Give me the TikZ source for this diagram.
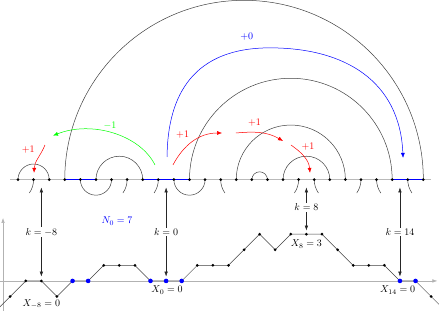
\documentclass[tikz,border=0pt]{standalone}
\usetikzlibrary{arrows.meta}
\begin{document}
\begin{tikzpicture}[x=15.59pt,y=15.59pt,
  tdot/.style={circle,fill=black,inner sep=0pt,minimum size=3pt},
  wdot/.style={circle,fill=black,inner sep=0pt,minimum size=3pt},
  bdot/.style={circle,fill=blue,inner sep=0pt,minimum size=4.6pt},
  arcline/.style={black!75,line width=0.5pt},
  base/.style={gray!55,line width=1.1pt},
  bseg/.style={blue,line width=1.4pt},
  axisline/.style={gray!60,line width=0.5pt,-{Latex[length=5pt,width=3.5pt]}},
  karrow/.style={black!85,line width=0.5pt,{Latex[length=5pt,width=3.5pt]}-{Latex[length=5pt,width=3.5pt]}},
  lab/.style={fill=white,inner sep=1pt},
  carrow/.style={line width=0.5pt,-{Latex[length=5pt,width=4pt]}},
]
\useasboundingbox (-0.654,-1.924) rectangle (27.505,18.02);

% axes
\coordinate (ay0) at (-0.46,-2);
\coordinate (ay1) at (-0.46,4.04);
\coordinate (ax0) at (-0.7,0);
\coordinate (ax1) at (27.4,0);
\draw[axisline] (ay0) -- (ay1);
\draw[axisline] (ax0) -- (ax1);

% top baseline
\coordinate (L0) at (0,6.5);
\coordinate (L1) at (27,6.5);
\draw[base] (L0) -- (L1);
\foreach \i in {0,...,26} \coordinate (t\i) at (\i+0.5,6.5);
\draw[bseg] (t3) -- (t5);
\draw[bseg] (t8) -- (t11);
\draw[bseg] (t24) -- (t26);

% upper arcs
\draw[arcline] (t0) arc[start angle=180,end angle=0,radius=1];
\draw[arcline] (t3) arc[start angle=180,end angle=0,radius=11.5];
\draw[arcline] (t5) arc[start angle=180,end angle=0,radius=1.5];
\draw[arcline] (t11) arc[start angle=180,end angle=0,radius=6.5];
\draw[arcline] (t14) arc[start angle=180,end angle=0,radius=3.5];
\draw[arcline] (t15) arc[start angle=180,end angle=0,radius=0.5];
\draw[arcline] (t17) arc[start angle=180,end angle=0,radius=1.5];
% lower arcs
\draw[arcline] (t4) arc[start angle=180,end angle=360,radius=1];
\draw[arcline] (t10) arc[start angle=180,end angle=360,radius=1];
% stubs
\foreach \i in {1,7,9,18,22}
  \draw[arcline] (t\i) arc[start angle=0,end angle=-35,radius=1.5];
\foreach \i in {13,19,23,25}
  \draw[arcline] (t\i) arc[start angle=180,end angle=215,radius=1.5];
% dots
\foreach \i in {0,...,26} \node[tdot] (d\i) at (t\i) {};

% walk
\foreach \lv [count=\n from 0] in {-1,0,0,-1,0,0,1,1,1,0,0,0,1,1,1,2,3,2,3,3,3,2,1,1,1,0,0,-1}
  \coordinate (w\n) at (\n,\lv);
\coordinate (wa) at (-1,-2);
\coordinate (wb) at (28,-2);
\draw[arcline] (wa) \foreach \j in {0,...,27}{ -- (w\j)} -- (wb);
\foreach \j in {0,...,27} \node[wdot] (v\j) at (w\j) {};
\foreach \j in {4,5,9,10,11,25,26} \node[bdot] (b\j) at (w\j) {};

% k arrows
\coordinate (ka) at (2,6.0);
\coordinate (kb) at (10,6.0);
\coordinate (kc) at (19,6.0);
\coordinate (kd) at (25,6.0);
\draw[karrow,shorten >=4.3pt] (ka) -- (w2);
\draw[karrow,shorten >=4.3pt] (kb) -- (w10);
\draw[karrow,shorten >=3.6pt] (kc) -- (w19);
\draw[karrow,shorten >=4.3pt] (kd) -- (w25);
\node[lab] (la) at (2,3.14) {$k=-8$};
\node[lab] (lb) at (10,3.14) {$k=0$};
\node[lab] (lc) at (19,4.74) {$k=8$};
\node[lab] (ld) at (25,3.14) {$k=14$};

\node (xa) at (2,-1.48) {$X_{-8}=0$};
\node (xb) at (10.06,-0.6) {$X_0=0$};
\node (xc) at (19,2.37) {$X_8=3$};
\node (xd) at (24.85,-0.6) {$X_{14}=0$};
\node[blue] (n0) at (6.85,3.85) {$N_0=7$};

% coloured moves
\coordinate (r1s) at (2.23,8.72);
\coordinate (r1e) at (1.53,6.93);
\draw[carrow,red] (r1s) to[out=-112,in=88] (r1e);
\node[red] (r1l) at (1.16,8.40) {$+1$};

\coordinate (gs) at (9.29,7.44);
\coordinate (ge) at (2.75,9.32);
\draw[carrow,green] (gs) .. controls (8.3,9.4) and (5.2,10.3) .. (ge);
\node[green] (g1l) at (6.4,9.95) {$-1$};

\coordinate (r2s) at (10.44,7.44);
\coordinate (r2e) at (13.59,9.49);
\draw[carrow,red] (r2s) to[out=62,in=180] (r2e);
\node[red] (r2l) at (11.06,9.40) {$+1$};

\coordinate (r3s) at (14.48,9.49);
\coordinate (r3e) at (17.5,8.98);
\draw[carrow,red] (r3s) to[out=5,in=150] (r3e);
\node[red] (r3l) at (15.67,10.15) {$+1$};

\coordinate (r4s) at (18.01,8.72);
\coordinate (r4e) at (19.23,6.93);
\draw[carrow,red] (r4s) to[out=-35,in=95] (r4e);
\node[red] (r4l) at (19.1,8.6) {$+1$};

\coordinate (bs) at (10.06,7.95);
\coordinate (bm) at (16.66,14.95);
\coordinate (be) at (25.2,7.89);
\draw[carrow,blue] (bs) .. controls (10.1,12.0) and (11.8,14.95) .. (bm)
  .. controls (21.5,14.95) and (25.0,12.8) .. (be);
\node[blue] (b0l) at (15.18,15.67) {$+0$};
\end{tikzpicture}
\end{document}
